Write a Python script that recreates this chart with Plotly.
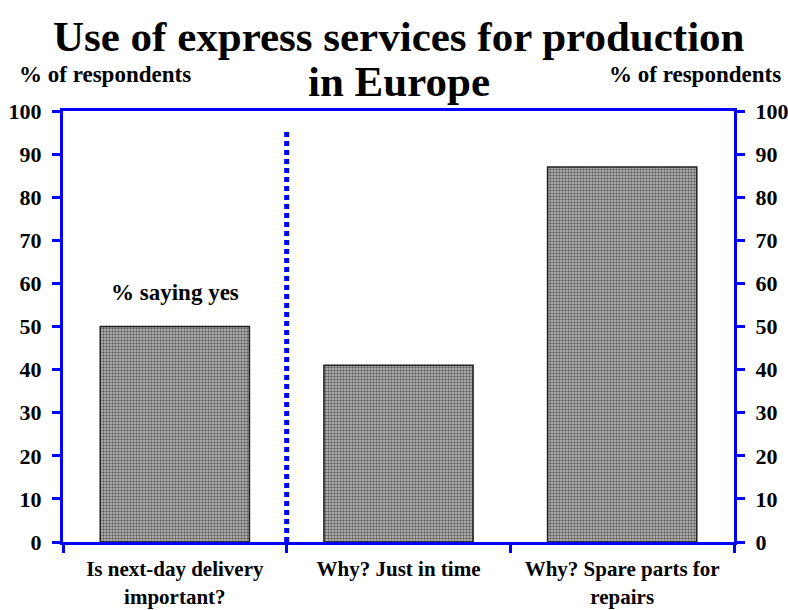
import plotly.graph_objects as go

categories = ["Is next-day delivery<br>important?", "Why? Just in time", "Why? Spare parts for<br>repairs"]
values = [50, 41, 87]
y_ticks = [0, 10, 20, 30, 40, 50, 60, 70, 80, 90, 100]
title_lines = ["Use of express services for production", "in Europe"]
axis_label = "% of respondents"
note_text = "% saying yes"

FONT = "Liberation Serif"
BLUE = "#0000FF"

fig = go.Figure()
fig.add_trace(go.Bar(
    x=categories, y=values,
    marker=dict(
        color="#a0a0a0",
        line=dict(color="#202020", width=1.5),
        pattern=dict(shape=".", size=3, fgcolor="#606060", bgcolor="#c0c0c0",
                     solidity=0.5, fillmode="replace"),
    ),
    showlegend=False, hoverinfo="skip",
))
fig.add_trace(go.Scatter(
    x=categories, y=[None] * len(categories), yaxis="y2",
    mode="markers", marker=dict(opacity=0), showlegend=False, hoverinfo="skip",
))

fig.add_shape(type="line", xref="x", yref="y", x0=0.5, x1=0.5, y0=0, y1=96,
              line=dict(color=BLUE, width=5, dash="5px,4px"))

tickfont = dict(family=FONT, size=22, color="black")

fig.update_layout(
    width=788, height=610,
    margin=dict(l=63, r=54, t=111, b=68),
    paper_bgcolor="white", plot_bgcolor="white",
    bargap=0.333,
    font=dict(family=FONT, color="black"),
    xaxis=dict(
        type="category", tickson="boundaries", automargin=False,
        showline=True, linecolor=BLUE, linewidth=3, mirror=True,
        ticks="outside", ticklen=8, tickwidth=3, tickcolor=BLUE,
        showgrid=False, zeroline=False,
        tickfont=dict(family=FONT, size=21, color="black"),
        ticklabelstandoff=6,
    ),
    yaxis=dict(
        range=[0, 100], tickvals=y_ticks, ticktext=[f"<b>{v}</b>" for v in y_ticks],
        automargin=False, ticklabelstandoff=6,
        showline=True, linecolor=BLUE, linewidth=3, mirror=True,
        ticks="outside", ticklen=8, tickwidth=3, tickcolor=BLUE,
        showgrid=False, zeroline=False, tickfont=tickfont,
    ),
    yaxis2=dict(
        range=[0, 100], tickvals=y_ticks, ticktext=[f"<b>{v}</b>" for v in y_ticks],
        overlaying="y", side="right", automargin=False, ticklabelstandoff=6,
        showline=True, linecolor=BLUE, linewidth=3,
        ticks="outside", ticklen=8, tickwidth=3, tickcolor=BLUE,
        showgrid=False, zeroline=False, tickfont=tickfont,
    ),
)

fig.update_xaxes(ticktext=[f"<b>{c}</b>" for c in categories], tickvals=categories)

annotations = [
    dict(text=f"<b>{title_lines[0]}</b>", x=0.5, y=1.174, xref="paper", yref="paper",
         xanchor="center", yanchor="middle", showarrow=False,
         font=dict(family=FONT, size=43, color="black")),
    dict(text=f"<b>{title_lines[1]}</b>", x=0.5, y=1.069, xref="paper", yref="paper",
         xanchor="center", yanchor="middle", showarrow=False,
         font=dict(family=FONT, size=43, color="black")),
    dict(text=f"<b>{axis_label}</b>", x=0.0633, y=1.084, xref="paper", yref="paper",
         xanchor="center", yanchor="middle", showarrow=False,
         font=dict(family=FONT, size=23, color="black")),
    dict(text=f"<b>{axis_label}</b>", x=0.942, y=1.084, xref="paper", yref="paper",
         xanchor="center", yanchor="middle", showarrow=False,
         font=dict(family=FONT, size=23, color="black")),
    dict(text=f"<b>{note_text}</b>", x=0, y=57.8, xref="x", yref="y",
         xanchor="center", yanchor="middle", showarrow=False,
         font=dict(family=FONT, size=23, color="black")),
]
fig.update_layout(annotations=annotations)

fig.write_html("out.html", config={"displayModeBar": False},
               post_script="document.body.style.margin='0';")
